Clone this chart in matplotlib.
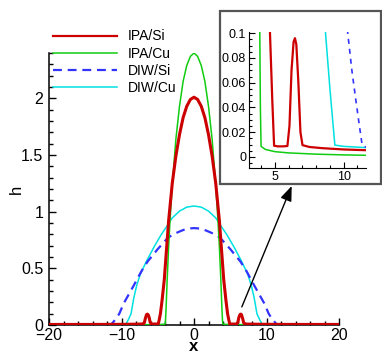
import matplotlib
matplotlib.use('Agg')
import matplotlib.pyplot as plt
import numpy as np
from matplotlib.patches import Rectangle
from matplotlib.lines import Line2D
from matplotlib.ticker import MultipleLocator, FixedLocator, FixedFormatter

plt.rcParams['font.family'] = ['Liberation Sans', 'DejaVu Sans']

labels = ['IPA/Si', 'IPA/Cu', 'DIW/Si', 'DIW/Cu']
colors = ['#cc0000', '#11cc11', '#3333ff', '#00e0e0']

# right half (x >= 0) of each symmetric profile
ipa_si_x = [0, 0.5, 1.0, 1.5, 2.0, 2.5, 3.0, 3.5, 3.8, 4.1, 4.4, 4.63, 4.8, 4.93, 5.2, 5.6,
            5.9, 6.05, 6.2, 6.35, 6.45, 6.55, 6.7, 6.85, 7.0, 7.5, 8.5, 10, 11.6, 14, 17, 20]
ipa_si_h = [2.01, 1.99, 1.93, 1.83, 1.68, 1.49, 1.25, 0.92, 0.66, 0.40, 0.22, 0.10, 0.045, 0.009,
            0.0085, 0.0085, 0.0088, 0.025, 0.07, 0.093, 0.096, 0.091, 0.06, 0.02, 0.0095, 0.008,
            0.007, 0.006, 0.0054, 0.005, 0.005, 0.005]

ipa_cu_x = [0, 0.5, 1.0, 1.5, 2.0, 2.5, 3.0, 3.3, 3.5, 3.7, 3.85, 3.93, 3.98, 4.3, 5.0, 6.0,
            8.0, 10.0, 12.0, 16.0, 20.0]
ipa_cu_h = [2.40, 2.37, 2.29, 2.15, 1.93, 1.64, 1.23, 0.93, 0.69, 0.40, 0.15, 0.04, 0.0085,
            0.006, 0.0042, 0.0032, 0.0022, 0.0016, 0.0012, 0.001, 0.001]

diw_si_x = [0, 1.0, 1.8, 2.7, 3.6, 5.0, 6.4, 7.2, 7.8, 8.3, 9.0, 9.7, 10.0, 10.3, 10.6, 10.9,
            11.15, 11.35, 11.6, 12.5, 15, 20]
diw_si_h = [0.855, 0.85, 0.83, 0.805, 0.77, 0.67, 0.56, 0.48, 0.41, 0.35, 0.27, 0.19, 0.145,
            0.10, 0.07, 0.045, 0.025, 0.0095, 0.008, 0.0075, 0.007, 0.007]

diw_cu_x = [0, 1.0, 2.0, 3.0, 3.7, 4.5, 5.5, 6.5, 7.4, 7.9, 8.3, 8.68, 9.0, 9.36, 10, 11.6, 15, 20]
diw_cu_h = [1.05, 1.04, 1.005, 0.945, 0.875, 0.80, 0.69, 0.57, 0.45, 0.35, 0.24, 0.10, 0.055,
            0.0095, 0.0085, 0.0075, 0.007, 0.007]

x_ticks = [-20, -10, 0, 10, 20]
y_ticks = [0, 0.5, 1, 1.5, 2]
y_ticklabels = ['0', '0.5', '1', '1.5', '2']
inset_x_ticks = [5, 10]
inset_y_ticks = [0, 0.02, 0.04, 0.06, 0.08, 0.1]
inset_y_ticklabels = ['0', '0.02', '0.04', '0.06', '0.08', '0.1']


def mirror(xs, hs):
    xs = np.asarray(xs, float)
    hs = np.asarray(hs, float)
    return np.concatenate([-xs[:0:-1], xs]), np.concatenate([hs[:0:-1], hs])


series = [mirror(ipa_si_x, ipa_si_h), mirror(ipa_cu_x, ipa_cu_h),
          mirror(diw_si_x, diw_si_h), mirror(diw_cu_x, diw_cu_h)]
styles = [dict(lw=2.2, ls='-', zorder=5), dict(lw=1.1, ls='-', zorder=4),
          dict(lw=1.6, ls=(0, (4, 2.6)), zorder=3), dict(lw=1.1, ls='-', zorder=2)]

fig = plt.figure(figsize=(3.82, 3.53), dpi=100)
ax = fig.add_axes([49 / 382, 1 - 325 / 353, 290 / 382, 272 / 353])

for (x, h), c, st in zip(series, colors, styles):
    ax.plot(x, h, color=c, solid_capstyle='butt', **st)

ax.set_xlim(-20, 20)
ax.set_ylim(0, 2.4)
ax.spines['top'].set_visible(False)
ax.spines['right'].set_visible(False)
for s in ['left', 'bottom']:
    ax.spines[s].set_linewidth(1.1)
ax.xaxis.set_major_locator(FixedLocator(x_ticks))
ax.xaxis.set_minor_locator(MultipleLocator(2))
ax.yaxis.set_major_locator(FixedLocator(y_ticks))
ax.yaxis.set_major_formatter(FixedFormatter(y_ticklabels))
ax.yaxis.set_minor_locator(MultipleLocator(0.1))
ax.tick_params(which='both', direction='in', top=False, right=False, labelsize=11.5, width=1.0)
ax.tick_params(which='major', length=5)
ax.tick_params(which='minor', length=3)
ax.tick_params(axis='x', pad=2)
ax.tick_params(axis='y', pad=4)
ax.set_xlabel('x', fontsize=12, fontweight='bold', va='baseline')
ax.xaxis.set_label_coords(0.5, -0.097)
ax.set_ylabel('h', fontsize=12)
ax.yaxis.set_label_coords(-0.085, 0.5)

# legend (proxy lines a little thinner, as in the reference)
leg_lw = [1.6, 1.1, 1.6, 1.1]
handles = [Line2D([], [], color=c, lw=lw, ls=st['ls']) for c, lw, st in zip(colors, leg_lw, styles)]
fig.legend(handles=handles, labels=labels, loc='upper left',
           bbox_to_anchor=(53 / 382, 1 - 29.5 / 353),
           frameon=False, fontsize=10, handlelength=4.6, handletextpad=0.8,
           labelspacing=0.22, borderpad=0, borderaxespad=0)

# inset frame
frame = Rectangle((220 / 382, 1 - 184 / 353), 161 / 382, 173 / 353, transform=fig.transFigure,
                  facecolor='white', edgecolor='#555555', lw=1.6, zorder=10)
fig.patches.append(frame)

axin = fig.add_axes([249 / 382, 1 - 168 / 353, 117 / 382, 136 / 353], zorder=11)
axin.patch.set_alpha(0)
inset_lw = [1.6, 1.1, 1.2, 1.1]
inset_ls = ['-', '-', (0, (3, 3)), '-']
for (x, h), c, st, lw, ls in zip(series, colors, styles, inset_lw, inset_ls):
    axin.plot(x, h, color=c, lw=lw, ls=ls, zorder=st['zorder'])
axin.set_xlim(3.1, 11.63)
axin.set_ylim(-0.009, 0.101)
axin.spines['top'].set_visible(False)
axin.spines['right'].set_visible(False)
axin.xaxis.set_major_locator(FixedLocator(inset_x_ticks))
axin.xaxis.set_minor_locator(MultipleLocator(1))
axin.yaxis.set_major_locator(FixedLocator(inset_y_ticks))
axin.yaxis.set_major_formatter(FixedFormatter(inset_y_ticklabels))
axin.yaxis.set_minor_locator(MultipleLocator(0.005))
axin.tick_params(which='both', direction='in', labelsize=9, width=0.8, pad=2)
axin.tick_params(which='major', length=4)
axin.tick_params(which='minor', length=2)

ax.annotate('', xy=(291.7 / 382, 1 - 186 / 353), xycoords='figure fraction',
            xytext=(6.6, 0.16), textcoords='data',
            arrowprops=dict(arrowstyle='-|>,head_length=0.9,head_width=0.35', color='black',
                            lw=1.0, shrinkA=0, shrinkB=0),
            zorder=12, annotation_clip=False)

fig.savefig('out.png', dpi=100)
